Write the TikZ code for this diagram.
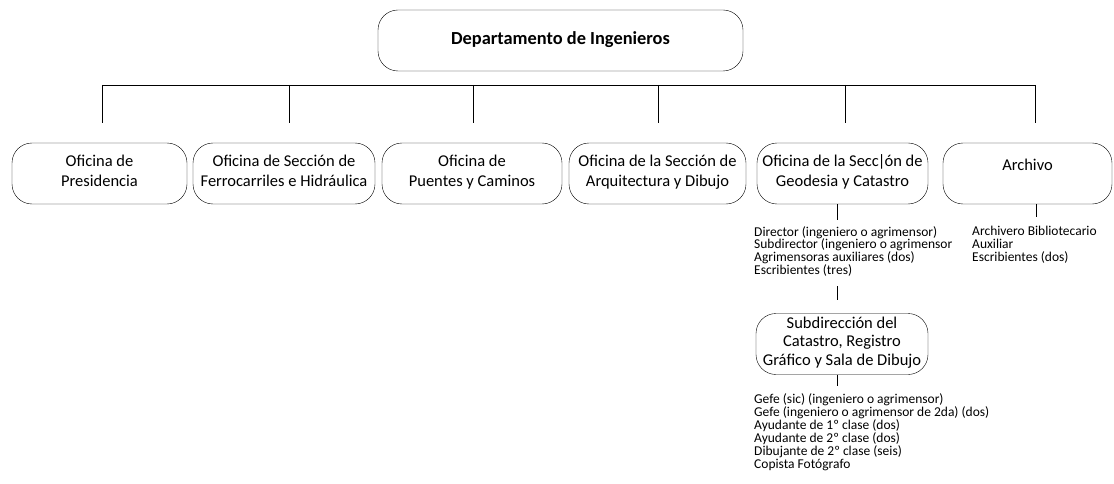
\documentclass[tikz,border=0pt]{standalone}
\usepackage{fontspec}
\setmainfont{Carlito}
\begin{document}
\begin{tikzpicture}
  [x=1pt,y=-1pt
  ,box/.style={draw,rectangle,rounded corners=20pt,align=center,minimum height=61pt,inner sep=0pt,font=\fontsize{16.5}{20}\selectfont,execute at begin node=\strut,execute at end node=\strut}
  ,lista/.style={anchor=north west,align=left,inner sep=0pt,font=\fontsize{13.5}{12.8}\selectfont}
  ]

  % Office box
  %
  % #1 - name
  % #2 - x center
  % #3 - width
  % #4 - text
  \newcommand{\oficina}[4]{
    \node[box,minimum width=#3] (#1) at (#2,173.5) {#4};
  }

  % Drop from the bus
  %
  % #1 - name
  % #2 - x position
  \newcommand{\bajada}[2]{
    \coordinate (#1-a) at (#2,85);
    \coordinate (#1-b) at (#2,123);
    \draw (#1-a) -- (#1-b);
  }

  \useasboundingbox (0,0) rectangle (1114,484);

  % head
  \node[box,minimum width=365pt,font=\fontsize{18.4}{22}\selectfont\bfseries] (dep) at (560.5,40.5) {Departamento de Ingenieros};

  % bus
  \coordinate (bus-l) at (102,85);
  \coordinate (bus-r) at (1035,85);
  \draw (bus-l) -- (bus-r);

  \bajada{d1}{102}
  \bajada{d2}{289}
  \bajada{d3}{473}
  \bajada{d4}{658}
  \bajada{d5}{845}
  \bajada{d6}{1035}

  % offices
  \oficina{o1}{99.5}{175pt}{Oficina de\\Presidencia}
  \oficina{o2}{284}{182pt}{Oficina de Sección de\\Ferrocarriles e Hidráulica}
  \oficina{o3}{472}{180pt}{Oficina de\\Puentes y Caminos}
  \oficina{o4}{657.5}{177pt}{Oficina de la Sección de\\Arquitectura y Dibujo}
  \oficina{o5}{842.5}{171pt}{Oficina de la Secc\kern-1pt|\kern-1ptón de\\Geodesia y Catastro}
  \oficina{o6}{1027.5}{169pt}{\raisebox{7pt}[0pt][0pt]{Archivo}}

  % geodesia
  \coordinate (g1) at (837,220);
  \draw (o5.south -| g1) -- (g1);
  \node[lista] (geo) at (754,226) {Director (ingeniero o agrimensor)\\
    Subdirector (ingeniero o agrimensor\\
    Agrimensoras auxiliares (dos)\\
    Escribientes (tres)};

  % subdireccion
  \node[box,minimum width=172pt,font=\fontsize{16.5}{18.5}\selectfont] (sub) at (842,344) {Subdirección del\\Catastro, Registro\\Gráfico y Sala de Dibujo};
  \coordinate (g2) at (837,286);
  \coordinate (g3) at (837,300);
  \draw (g2) -- (g3);
  \coordinate (g4) at (837,386);
  \draw (sub.south -| g4) -- (g4);
  \node[lista,font=\fontsize{13.5}{13.1}\selectfont] (cat) at (754,393) {Gefe (sic) (ingeniero o agrimensor)\\
    Gefe (ingeniero o agrimensor de 2da) (dos)\\
    Ayudante de 1º clase (dos)\\
    Ayudante de 2º clase (dos)\\
    Dibujante de 2º clase (seis)\\
    Copista Fotógrafo};

  % archivo
  \coordinate (a1) at (1036,217);
  \draw (o6.south -| a1) -- (a1);
  \node[lista] (arc) at (972,226) {Archivero Bibliotecario\\
    Auxiliar\\
    Escribientes (dos)};

\end{tikzpicture}
\end{document}
